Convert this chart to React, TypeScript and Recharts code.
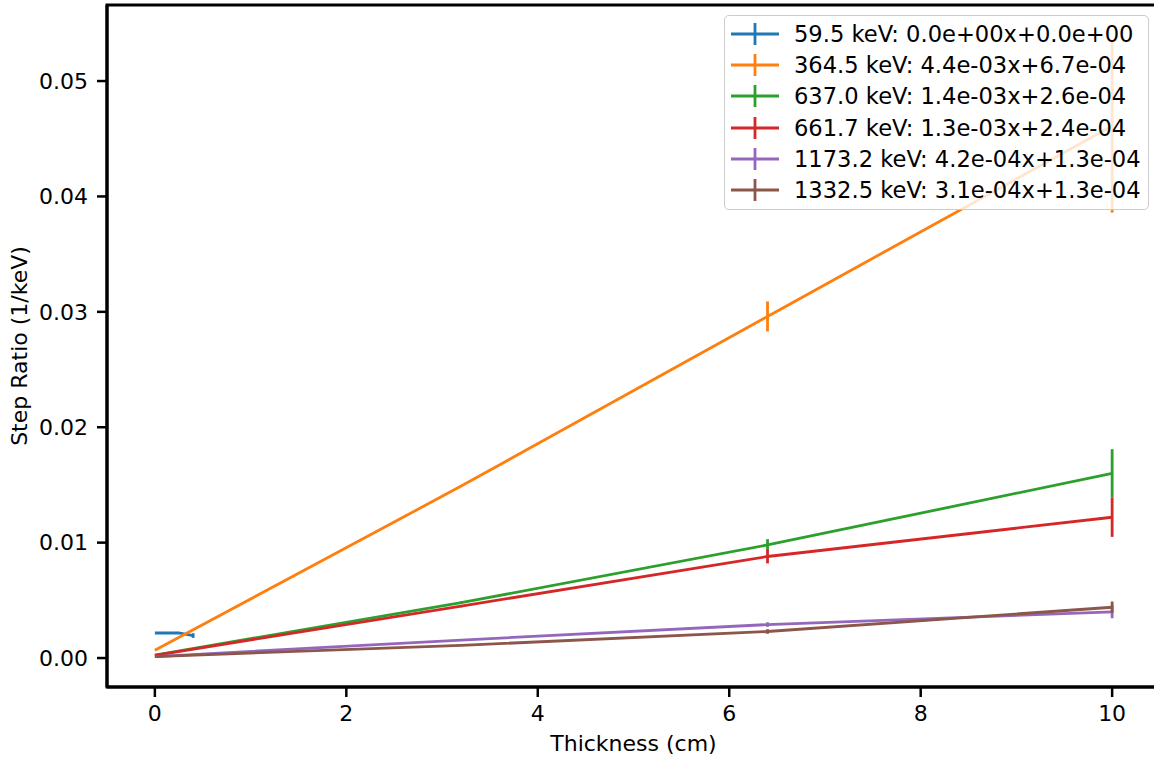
import React from 'react';
import { ComposedChart, Line, XAxis, YAxis, ErrorBar, ReferenceArea } from 'recharts';

const FONT = '"DejaVu Sans", sans-serif';

const X_TICKS = [0, 2, 4, 6, 8, 10];
const Y_TICKS = [0, 0.01, 0.02, 0.03, 0.04, 0.05];
const X_DOMAIN: [number, number] = [-0.5, 10.5];
const Y_DOMAIN: [number, number] = [-0.00251, 0.05659];

const thickness = [0, 3.2, 6.4, 10];

const x595 = [0, 0.25, 0.4];
const y595 = [0.00217, 0.00217, 0.00195];
const e595 = [0, 0, 0.0002];

const y3645 = [0.00067, 0.0149, 0.0296, 0.0461];
const e3645 = [0, 0.00005, 0.0013, 0.0075];

const y6370 = [0.00026, 0.0048, 0.0098, 0.016];
const e6370 = [0, 0.0001, 0.0005, 0.0021];

const y6617 = [0.00024, 0.0045, 0.0088, 0.0122];
const e6617 = [0, 0.0001, 0.0006, 0.0017];

const y11732 = [0.00013, 0.00156, 0.0029, 0.004];
const e11732 = [0, 0.00005, 0.0002, 0.00055];

const y13325 = [0.00013, 0.0011, 0.0023, 0.0044];
const e13325 = [0, 0.00005, 0.0002, 0.0005];

const labels = [
  '59.5 keV: 0.0e+00x+0.0e+00',
  '364.5 keV: 4.4e-03x+6.7e-04',
  '637.0 keV: 1.4e-03x+2.6e-04',
  '661.7 keV: 1.3e-03x+2.4e-04',
  '1173.2 keV: 4.2e-04x+1.3e-04',
  '1332.5 keV: 3.1e-04x+1.3e-04',
];
const colors = ['#1f77b4', '#ff7f0e', '#2ca02c', '#d62728', '#9467bd', '#8c564b'];

const build = (xs: number[], ys: number[], es: number[]) =>
  xs.map((x, i) => ({ x, y: ys[i], err: es[i] }));

const series = [
  build(x595, y595, e595),
  build(thickness, y3645, e3645),
  build(thickness, y6370, e6370),
  build(thickness, y6617, e6617),
  build(thickness, y11732, e11732),
  build(thickness, y13325, e13325),
];

const LW = 2.8;

const YLabel = (props: any) => {
  const vb = props.viewBox || {};
  const cx = vb.x + 27;
  const cy = vb.y + vb.height / 2;
  return (
    <text
      x={cx}
      y={cy}
      transform={`rotate(-90, ${cx}, ${cy})`}
      textAnchor="middle"
      fill="#000"
      style={{ fontFamily: FONT, fontSize: 22 }}
    >
      Step Ratio (1/keV)
    </text>
  );
};

const LegendBox = () => (
  <div
    style={{
      position: 'absolute',
      left: 724,
      top: 15,
      width: 423,
      height: 191,
      border: '1.5px solid #cccccc',
      borderRadius: 5,
      background: 'rgba(255,255,255,0.8)',
      fontFamily: FONT,
      fontSize: 22.6,
      color: '#000',
      paddingTop: 2,
      boxSizing: 'content-box',
    }}
  >
    {labels.map((lab, i) => (
      <div key={lab} style={{ height: 31.3, display: 'flex', alignItems: 'center' }}>
        <svg width={48} height={24} style={{ marginLeft: 5.5, marginRight: 15.5 }}>
          <line x1={0} y1={12} x2={48} y2={12} stroke={colors[i]} strokeWidth={LW} />
          <line x1={24} y1={1} x2={24} y2={23} stroke={colors[i]} strokeWidth={LW} />
        </svg>
        <span style={{ whiteSpace: 'nowrap', lineHeight: '24px' }}>{lab}</span>
      </div>
    ))}
  </div>
);

export default function App() {
  return (
    <div
      style={{
        position: 'absolute',
        left: 0,
        top: 0,
        width: 1154,
        height: 760,
        overflow: 'hidden',
        background: '#fff',
      }}
    >
      <ComposedChart
        width={1170}
        height={760}
        margin={{ top: 5, right: 10, bottom: 0, left: 0 }}
        style={{ fontFamily: FONT }}
      >
        <XAxis
          type="number"
          dataKey="x"
          domain={X_DOMAIN}
          ticks={X_TICKS}
          allowDataOverflow
          height={73}
          tickSize={10}
          tickMargin={8}
          tick={{ fill: '#000', fontSize: 22, fontFamily: FONT }}
          axisLine={{ stroke: '#000', strokeWidth: 3 }}
          tickLine={{ stroke: '#000', strokeWidth: 2.5 }}
          label={{ value: 'Thickness (cm)', position: 'insideBottom', offset: 9, fill: '#000', fontSize: 22, fontFamily: FONT }}
        />
        <YAxis
          type="number"
          domain={Y_DOMAIN}
          ticks={Y_TICKS}
          allowDataOverflow
          width={107}
          tickSize={10}
          tickMargin={9}
          tickFormatter={(v: number) => v.toFixed(2)}
          tick={{ fill: '#000', fontSize: 22, fontFamily: FONT }}
          axisLine={{ stroke: '#000', strokeWidth: 3 }}
          tickLine={{ stroke: '#000', strokeWidth: 2.5 }}
          label={<YLabel />}
        />
        <ReferenceArea
          x1={X_DOMAIN[0]}
          x2={X_DOMAIN[1]}
          y1={Y_DOMAIN[0]}
          y2={Y_DOMAIN[1]}
          fill="none"
          stroke="#000"
          strokeWidth={3}
          ifOverflow="visible"
        />
        {series.map((d, i) => (
          <Line
            key={labels[i]}
            data={d}
            dataKey="y"
            type="linear"
            stroke={colors[i]}
            strokeWidth={LW}
            dot={false}
            activeDot={false}
            isAnimationActive={false}
          >
            <ErrorBar dataKey="err" direction="y" width={0} stroke={colors[i]} strokeWidth={LW} />
          </Line>
        ))}
      </ComposedChart>
      <LegendBox />
    </div>
  );
}
